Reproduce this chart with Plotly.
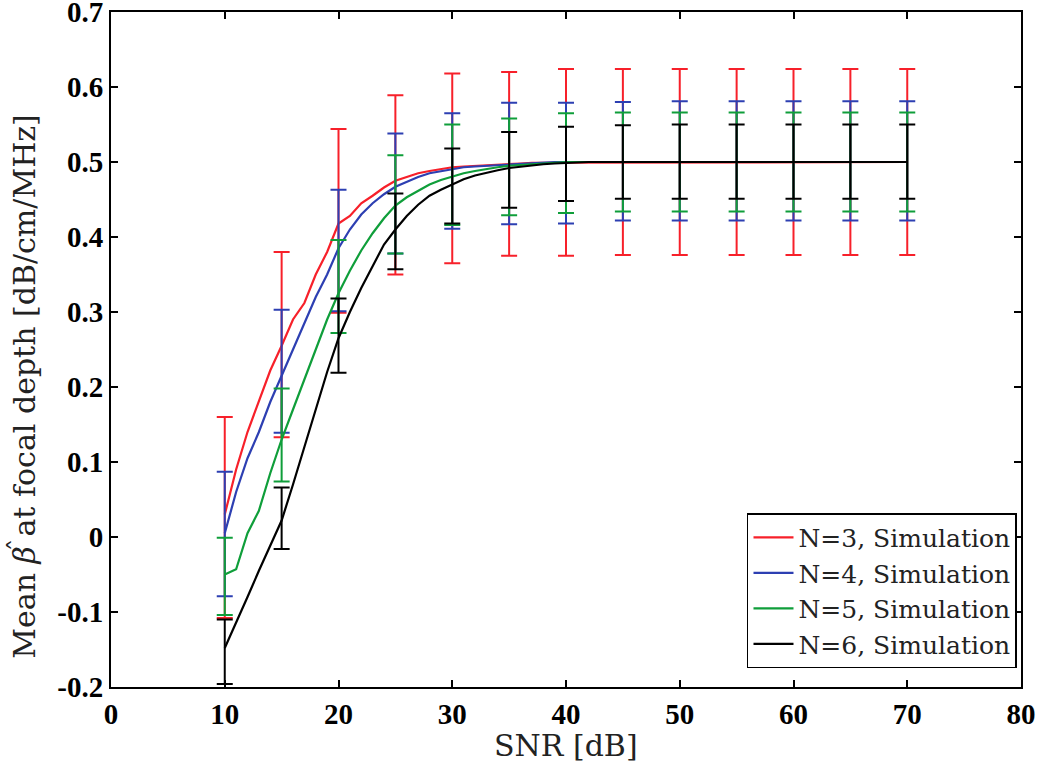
import plotly.graph_objects as go

snr = list(range(10, 71))
tail = [0.500, 0.500, 0.500, 0.500, 0.500, 0.500, 0.500, 0.500, 0.500, 0.500,
        0.500, 0.500, 0.500, 0.500, 0.500, 0.500, 0.500, 0.500, 0.500, 0.500,
        0.500, 0.500, 0.500, 0.500, 0.500, 0.500, 0.500, 0.500, 0.500, 0.500]

n3_mean = [0.030, 0.090, 0.140, 0.180, 0.222, 0.255, 0.290, 0.312, 0.350, 0.380,
           0.418, 0.428, 0.445, 0.455, 0.466, 0.475, 0.480, 0.485, 0.488, 0.491,
           0.493, 0.494, 0.495, 0.496, 0.497, 0.498, 0.498, 0.499, 0.499, 0.500,
           0.500] + tail
n4_mean = [0.005, 0.060, 0.105, 0.140, 0.180, 0.215, 0.250, 0.285, 0.320, 0.350,
           0.385, 0.410, 0.430, 0.445, 0.457, 0.467, 0.474, 0.480, 0.485, 0.488,
           0.491, 0.493, 0.494, 0.495, 0.496, 0.497, 0.498, 0.499, 0.499, 0.500,
           0.500] + tail
n5_mean = [-0.050, -0.043, 0.005, 0.035, 0.085, 0.130, 0.170, 0.210, 0.250, 0.290,
           0.325, 0.355, 0.382, 0.405, 0.425, 0.442, 0.453, 0.462, 0.470, 0.476,
           0.481, 0.485, 0.488, 0.491, 0.493, 0.495, 0.496, 0.497, 0.498, 0.499,
           0.500] + tail
n6_mean = [-0.148, -0.115, -0.080, -0.045, -0.012, 0.022, 0.070, 0.120, 0.170, 0.220,
           0.265, 0.300, 0.332, 0.362, 0.390, 0.410, 0.428, 0.443, 0.455, 0.463,
           0.470, 0.477, 0.482, 0.486, 0.489, 0.492, 0.494, 0.496, 0.497, 0.498,
           0.499] + tail

# error bar positions and their upper / lower ends
bar_snr = [10, 15, 20, 25, 30, 35, 40, 45, 50, 55, 60, 65, 70]
n3_hi = [0.160, 0.380, 0.544, 0.589, 0.618, 0.620, 0.624, 0.624, 0.624, 0.624, 0.624, 0.624, 0.624]
n3_lo = [-0.108, 0.133, 0.299, 0.350, 0.365, 0.375, 0.375, 0.376, 0.376, 0.376, 0.376, 0.376, 0.376]
n4_hi = [0.087, 0.303, 0.463, 0.538, 0.565, 0.579, 0.579, 0.580, 0.581, 0.581, 0.581, 0.581, 0.581]
n4_lo = [-0.079, 0.139, 0.301, 0.378, 0.411, 0.417, 0.418, 0.422, 0.422, 0.422, 0.422, 0.422, 0.422]
n5_hi = [-0.001, 0.198, 0.396, 0.509, 0.550, 0.558, 0.565, 0.566, 0.566, 0.566, 0.566, 0.566, 0.566]
n5_lo = [-0.104, 0.074, 0.272, 0.378, 0.416, 0.429, 0.432, 0.434, 0.434, 0.434, 0.434, 0.434, 0.434]
n6_hi = [-0.110, 0.066, 0.318, 0.458, 0.518, 0.540, 0.547, 0.549, 0.550, 0.550, 0.550, 0.550, 0.550]
n6_lo = [-0.196, -0.016, 0.219, 0.357, 0.418, 0.439, 0.448, 0.451, 0.451, 0.451, 0.451, 0.451, 0.451]

x_ticks = [0, 10, 20, 30, 40, 50, 60, 70, 80]
x_ticktext = ["0", "10", "20", "30", "40", "50", "60", "70", "80"]
y_ticks = [-0.2, -0.1, 0, 0.1, 0.2, 0.3, 0.4, 0.5, 0.6, 0.7]
y_ticktext = ["-0.2", "-0.1", "0", "0.1", "0.2", "0.3", "0.4", "0.5", "0.6", "0.7"]

series = [
    ("N=3, Simulation", n3_mean, n3_hi, n3_lo, "#f7202a"),
    ("N=4, Simulation", n4_mean, n4_hi, n4_lo, "#2d3fb2"),
    ("N=5, Simulation", n5_mean, n5_hi, n5_lo, "#0f9e3a"),
    ("N=6, Simulation", n6_mean, n6_hi, n6_lo, "#000000"),
]

fig = go.Figure()
for name, mean, hi, lo, col in series:
    fig.add_trace(go.Scatter(x=snr, y=mean, mode="lines", name=name,
                             line=dict(color=col, width=2.2)))
    mid = [(h + l) / 2 for h, l in zip(hi, lo)]
    half = [(h - l) / 2 for h, l in zip(hi, lo)]
    fig.add_trace(go.Scatter(x=bar_snr, y=mid, mode="markers", showlegend=False,
                             marker=dict(size=1, color=col, opacity=0),
                             error_y=dict(type="data", array=half, visible=True,
                                          color=col, thickness=2, width=8),
                             hoverinfo="skip"))

tick_fam = "Liberation Serif"
text_fam = "DejaVu Serif"
fig.update_layout(
    width=1050, height=764,
    margin=dict(l=111, r=29, t=12, b=77),
    paper_bgcolor="white", plot_bgcolor="white",
    font=dict(family=text_fam, color="black"),
    legend=dict(x=0.9956, y=0.028, xanchor="right", yanchor="bottom",
                bgcolor="white", bordercolor="black", borderwidth=1.5,
                font=dict(family=text_fam, size=25, color="#222222"), tracegroupgap=0,
                itemwidth=40),
    showlegend=True,
)
fig.update_xaxes(range=[0, 80], tickvals=x_ticks, ticktext=x_ticktext,
                 ticks="inside", ticklen=7, tickwidth=1.5, tickcolor="black",
                 showline=True, linecolor="black", linewidth=2, mirror="ticks",
                 showgrid=False, zeroline=False, automargin=False,
                 ticklabeloverflow="allow",
                 tickfont=dict(family=tick_fam, size=29, color="black", weight="bold"))
fig.update_yaxes(range=[-0.2, 0.7], tickvals=y_ticks, ticktext=y_ticktext,
                 ticks="inside", ticklen=7, tickwidth=1.5, tickcolor="black",
                 showline=True, linecolor="black", linewidth=2, mirror="ticks",
                 showgrid=False, zeroline=False, automargin=False,
                 ticklabeloverflow="allow",
                 tickfont=dict(family=tick_fam, size=29, color="black", weight="bold"))

fig.add_annotation(text="SNR [dB]",
                   xref="paper", yref="paper", x=0.5, y=-0.086,
                   xanchor="center", yanchor="middle", showarrow=False,
                   font=dict(family=text_fam, size=30, color="#222222"))
fig.add_annotation(text="Mean <i>\u03b2</i> at focal depth [dB/cm/MHz]",
                   xref="paper", yref="paper", x=-0.0945, y=0.445,
                   xanchor="center", yanchor="middle", textangle=-90, showarrow=False,
                   font=dict(family=text_fam, size=30, color="#222222"))
# the hat over beta
fig.add_annotation(text="\u02c6",
                   xref="paper", yref="paper", x=-0.1022, y=0.211,
                   xanchor="center", yanchor="middle", textangle=-90, showarrow=False,
                   font=dict(family=text_fam, size=26, color="#222222"))

fig.write_html("out.html", config={"displayModeBar": False},
               post_script="document.body.style.margin='0';")
